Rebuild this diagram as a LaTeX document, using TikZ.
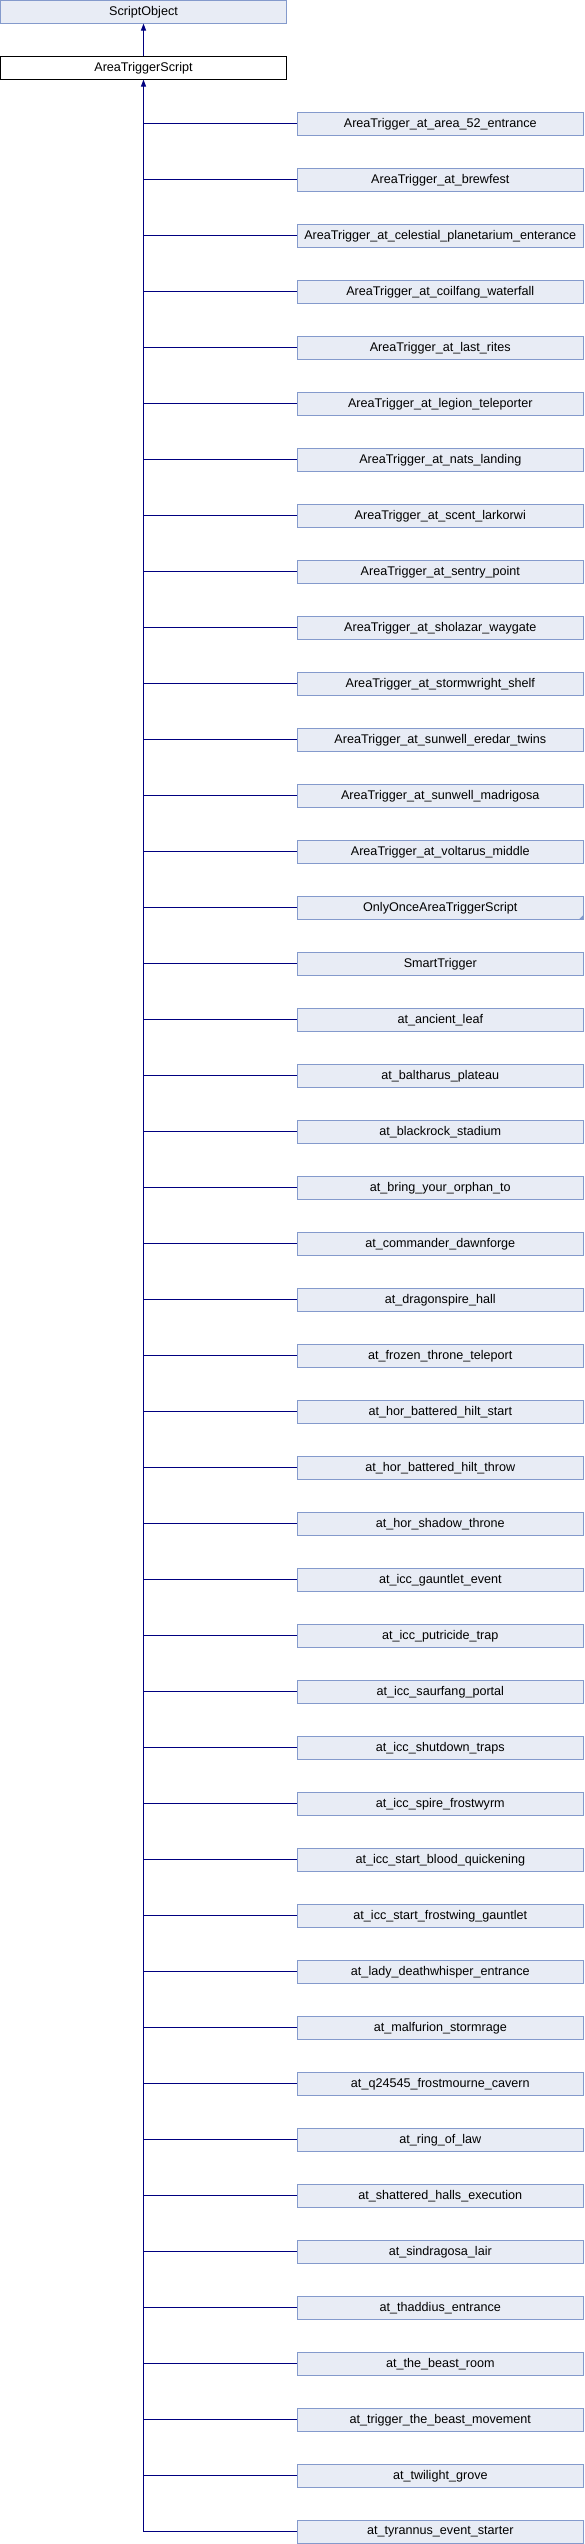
\documentclass[tikz,border=0pt]{standalone}
\usepackage{fontspec}
\setmainfont{Liberation Sans}
\usetikzlibrary{arrows.meta}
\definecolor{boxfill}{RGB}{232,236,245}
\definecolor{boxline}{RGB}{132,154,204}
\definecolor{conn}{RGB}{0,0,128}
\begin{document}
\begin{tikzpicture}[x=1pt,y=-1pt,
  basebox/.style={draw=boxline,fill=boxfill,line width=1pt,minimum width=286pt,minimum height=22.5pt,inner sep=0pt,font=\fontsize{12.6}{14}\selectfont},
  mainbox/.style={draw=black,fill=white,line width=1pt,minimum width=286pt,minimum height=22.5pt,inner sep=0pt,font=\fontsize{12.6}{14}\selectfont},
  childbox/.style={basebox},
  conline/.style={draw=conn,line width=1pt},
  inh/.style={conline,{Triangle[width=5pt,length=7pt]}-}]
\useasboundingbox (0,0) rectangle (584,2544);
\node[basebox] (so) at (143.5,11.8) {ScriptObject};
\node[mainbox] (ats) at (143.5,67.8) {AreaTriggerScript};
\draw[inh] (so.south) -- (ats.north);
\coordinate (tend) at (143.5,2532);
\draw[inh] (ats.south) -- (tend);
\foreach \n [count=\i] in {
AreaTrigger\_at\_area\_52\_entrance,
AreaTrigger\_at\_brewfest,
AreaTrigger\_at\_celestial\_planetarium\_enterance,
AreaTrigger\_at\_coilfang\_waterfall,
AreaTrigger\_at\_last\_rites,
AreaTrigger\_at\_legion\_teleporter,
AreaTrigger\_at\_nats\_landing,
AreaTrigger\_at\_scent\_larkorwi,
AreaTrigger\_at\_sentry\_point,
AreaTrigger\_at\_sholazar\_waygate,
AreaTrigger\_at\_stormwright\_shelf,
AreaTrigger\_at\_sunwell\_eredar\_twins,
AreaTrigger\_at\_sunwell\_madrigosa,
AreaTrigger\_at\_voltarus\_middle,
OnlyOnceAreaTriggerScript,
SmartTrigger,
at\_ancient\_leaf,
at\_baltharus\_plateau,
at\_blackrock\_stadium,
at\_bring\_your\_orphan\_to,
at\_commander\_dawnforge,
at\_dragonspire\_hall,
at\_frozen\_throne\_teleport,
at\_hor\_battered\_hilt\_start,
at\_hor\_battered\_hilt\_throw,
at\_hor\_shadow\_throne,
at\_icc\_gauntlet\_event,
at\_icc\_putricide\_trap,
at\_icc\_saurfang\_portal,
at\_icc\_shutdown\_traps,
at\_icc\_spire\_frostwyrm,
at\_icc\_start\_blood\_quickening,
at\_icc\_start\_frostwing\_gauntlet,
at\_lady\_deathwhisper\_entrance,
at\_malfurion\_stormrage,
at\_q24545\_frostmourne\_cavern,
at\_ring\_of\_law,
at\_shattered\_halls\_execution,
at\_sindragosa\_lair,
at\_thaddius\_entrance,
at\_the\_beast\_room,
at\_trigger\_the\_beast\_movement,
at\_twilight\_grove,
at\_tyrannus\_event\_starter}{
  \node[childbox] (c\i) at (440.3,{123.8+56*(\i-1)}) {\n};
  \coordinate (j\i) at (143.5,{123.8+56*(\i-1)});
  \draw[conline] (j\i) -- (c\i.west);
}
\fill[boxline] (c15.south east) -- ++(-5,0) -- ++(5,-5) -- cycle;
\end{tikzpicture}
\end{document}
